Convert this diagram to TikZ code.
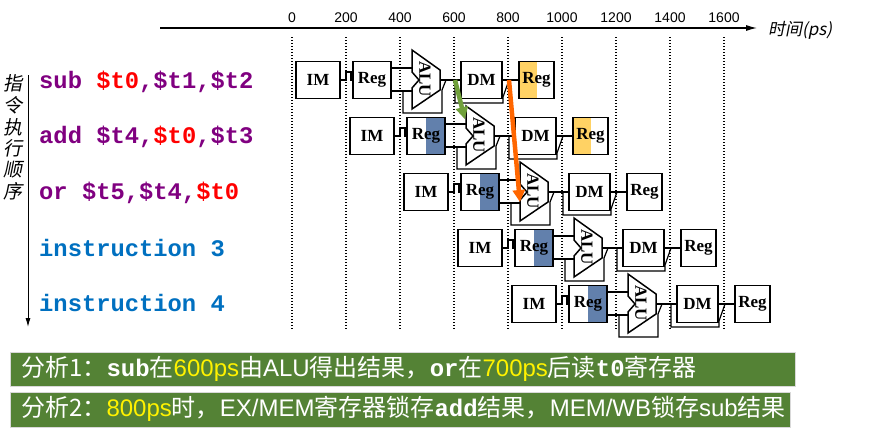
\documentclass[tikz,border=0pt]{standalone}
\usepackage{fontspec}
\setmainfont{Liberation Serif}
\setsansfont{Liberation Sans}
\setmonofont{Liberation Mono}
\newfontfamily\cjk{Noto Sans CJK SC}
\newfontfamily\cjkslant{Noto Sans CJK SC}[FakeSlant=0.2]
\usetikzlibrary{positioning,arrows.meta}

\definecolor{instpurple}{RGB}{128,0,128}
\definecolor{instblue}{RGB}{0,112,192}
\definecolor{regblue}{RGB}{98,128,172}
\definecolor{regyellow}{RGB}{255,210,100}
\definecolor{anagreen}{RGB}{84,130,53}
\definecolor{fwdgreen}{RGB}{112,160,58}
\definecolor{fwdorange}{RGB}{255,102,0}

\tikzset{
  stage/.style={draw, line width=1.5pt, inner sep=0pt, minimum height=37pt,
    font=\fontsize{17}{19}\selectfont\bfseries},
  wire/.style={line width=1.2pt},
  tick/.style={font=\sffamily\fontsize{14}{16}\selectfont, inner sep=0pt},
  inst/.style={anchor=west, inner sep=0pt, font=\ttfamily\bfseries\fontsize{23.8}{26}\selectfont},
  anabox/.style={fill=anagreen, draw=black!15, line width=1pt, inner sep=0pt, anchor=north west},
  anatext/.style={anchor=west, inner sep=0pt, text=white, font=\cjk\fontsize{24}{26}\selectfont},
  fwd/.style={line width=4.5pt, -{Triangle[length=12pt,width=12pt]}}
}

\begin{document}
\begin{tikzpicture}[x=1pt,y=-1pt]
\useasboundingbox (0,0) rectangle (871,429);

\coordinate (tstart) at (160,28);
\coordinate (tend) at (757,28);
\draw[line width=1.2pt, -{Latex[length=11pt,width=6pt]}] (tstart) -- (tend);
\node[anchor=west, inner sep=0pt, font=\cjkslant\fontsize{17}{20}\selectfont] (tlabel) at (768,30) {时间(ps)};
\foreach \i in {0,...,8}{
  \node[tick] (tk\i) at (292+54*\i,18) {\number\numexpr200*\i\relax};
  \draw[line width=1.3pt, dash pattern=on 1.4pt off 1.6pt] (292+54*\i,37) -- (292+54*\i,330);
}

\coordinate (ordtop) at (28,75);
\coordinate (ordbot) at (28,327);
\draw[line width=1pt, -{Latex[length=9pt,width=5pt]}] (ordtop) -- (ordbot);
\foreach \c [count=\k] in {指,令,执,行,顺,序}
  \node[inner sep=0pt, font=\cjkslant\fontsize{19}{20}\selectfont] (ord\k) at (13,62+21.6*\k) {\c};

\node[inst, text=instpurple] (inst0) at (39,82) {sub \textcolor{red}{\$t0},\$t1,\$t2};
\node[inst, text=instpurple] (inst1) at (39,137) {add \$t4,\textcolor{red}{\$t0},\$t3};
\node[inst, text=instpurple] (inst2) at (39,193) {or \$t5,\$t4,\textcolor{red}{\$t0}};
\node[inst, text=instblue] (inst3) at (39,248) {instruction 3};
\node[inst, text=instblue] (inst4) at (39,303) {instruction 4};

\foreach \r/\idc/\wbc in {0/white/regyellow,1/regblue/regyellow,2/regblue/white,3/regblue/white,4/regblue/white}{
\begin{scope}[shift={(296+54*\r,80+56*\r)}]
\fill[\idc] (76,-18.5) rectangle (95,18.5);
\fill[\wbc] (223,-18.5) rectangle (240.5,18.5);
\node[stage, minimum width=44pt] (im\r) at (22,0) {IM};
\node[stage, minimum width=38pt] (reg\r) at (76,0) {Reg};
\node[stage, minimum width=41pt] (dm\r) at (185.5,0) {DM};
\node[stage, minimum width=35pt] (wb\r) at (240.5,0) {Reg};
\draw[line width=1.5pt] (116,-30) -- (144,-10) -- (144,10) -- (116,29) -- (116,8) -- (123,0) -- (116,-8) -- cycle;
\node[rotate=-90, inner sep=0pt, font=\fontsize{17}{19}\selectfont\bfseries] (alu\r) at (129,-1) {ALU};
\coordinate (aluA\r) at (116,-12);
\coordinate (aluB\r) at (116,11);
\coordinate (aluO\r) at (144,0);
\coordinate (exout\r) at (159,0);
\coordinate (memout\r) at (213,0);
\draw[wire] (im\r.east) -- (50,0) -- (50,-8) -- (55,-8) -- (55,0) -- (reg\r.west);
\draw[wire] (reg\r.east |- aluA\r) -- (aluA\r);
\draw[wire] (reg\r.east |- aluB\r) -- (aluB\r);
\draw[wire] (107,11) -- (107,33) -- (146,33) -- (146,10) -- (150,0);
\draw[wire] (aluO\r) -- (dm\r.west);
\draw[wire] (exout\r) -- (159,23) -- (207,23) -- (207,17) -- (memout\r);
\draw[wire] (dm\r.east) -- (wb\r.west);
\end{scope}
}

\draw[fwd, fwdgreen, shorten >=5pt] (exout0) -- (aluA1);
\draw[fwd, fwdorange, shorten >=1pt] (memout0) -- (aluB2);

\node[anabox, minimum width=785pt, minimum height=34pt] (ana1) at (10,352) {};
\node[anabox, minimum width=780pt, minimum height=35pt] (ana2) at (10,392) {};
\node[anatext] (anatxt1) at (21,369) {分析1：{\ttfamily\bfseries sub}在{\color{yellow}\sffamily 600ps}由{\sffamily ALU}得出结果，{\ttfamily\bfseries or}在{\color{yellow}\sffamily 700ps}后读{\ttfamily\bfseries t0}寄存器};
\node[anatext] (anatxt2) at (21,409) {分析2：{\color{yellow}\sffamily 800ps}时，{\sffamily EX/MEM}寄存器锁存{\ttfamily\bfseries add}结果，{\sffamily MEM/WB}锁存{\sffamily sub}结果};
\end{tikzpicture}
\end{document}
